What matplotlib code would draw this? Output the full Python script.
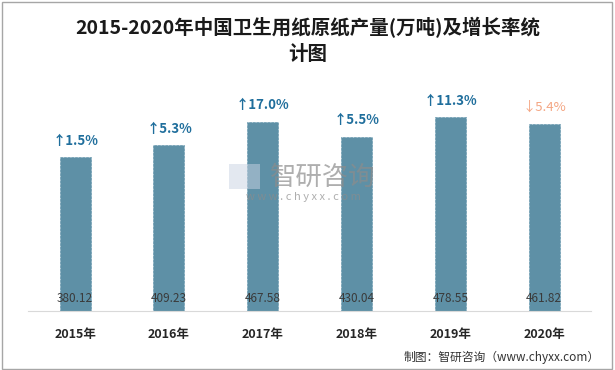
import matplotlib.pyplot as plt
from matplotlib.patches import Rectangle

plt.rcParams['font.family'] = ['Noto Sans CJK SC', 'DejaVu Sans']

years = ['2015年', '2016年', '2017年', '2018年', '2019年', '2020年']
output = [380.12, 409.23, 467.58, 430.04, 478.55, 461.82]
growth = ['↑1.5%', '↑5.3%', '↑17.0%', '↑5.5%', '↑11.3%', '↓5.4%']
growth_up = [True, True, True, True, True, False]

fig = plt.figure(figsize=(6.15, 3.7), dpi=100)
ax = fig.add_axes([0.046, 0.159, 0.915, 0.611])

x = range(len(years))
ax.bar(x, output, width=0.33, color='#5E90A6', edgecolor='#6A9AB0',
       linewidth=0.5, linestyle='--', zorder=2)

for i, v in enumerate(output):
    ax.annotate('%.2f' % v, (i, 0), xytext=(0, 9), textcoords='offset points',
                ha='center', va='center', fontsize=8.5, color='#3A3A3A', zorder=3)
    if growth_up[i]:
        ax.annotate(growth[i], (i, v), xytext=(0, 12), textcoords='offset points',
                    ha='center', va='center', fontsize=9.5, fontweight='bold',
                    color='#1F6E9C', zorder=3)
    else:
        ax.annotate(growth[i], (i, v), xytext=(0, 12), textcoords='offset points',
                    ha='center', va='center', fontsize=9.5, color='#F4A582', zorder=3)

ax.set_xlim(-0.5, len(years) - 0.5)
ax.set_ylim(0, 558)
ax.set_xticks(list(x))
ax.set_xticklabels(years, fontsize=9, fontweight='bold', color='#262626')
ax.tick_params(axis='x', length=0, pad=12)
ax.set_yticks([])
for s in ['top', 'left', 'right']:
    ax.spines[s].set_visible(False)
ax.spines['bottom'].set_color('#D9D9D9')

# watermark
fig.patches.append(Rectangle((0.372, 0.49), 0.05, 0.068, transform=fig.transFigure,
                             facecolor='#C9D3E2', edgecolor='none', alpha=0.5, zorder=5))
fig.text(0.525, 0.52, '智研咨询', ha='center', va='center', fontsize=19,
         color='#8C8C8C', alpha=0.7, zorder=5)
fig.text(0.493, 0.467, 'w w w . c h y x x . c o m', ha='center', va='center',
         fontsize=8, color='#8C8C8C', alpha=0.7, zorder=5)

fig.text(0.5, 0.926, '2015-2020年中国卫生用纸原纸产量(万吨)及增长率统', ha='center',
         va='center', fontsize=14, fontweight='bold', color='#1A1A1A')
fig.text(0.5, 0.852, '计图', ha='center', va='center', fontsize=14,
         fontweight='bold', color='#1A1A1A')
fig.text(0.975, 0.035, '制图：智研咨询（www.chyxx.com）', ha='right', va='center',
         fontsize=8.5, color='#333333')

fig.patches.append(Rectangle((0.003, 0.004), 0.992, 0.99, transform=fig.transFigure,
                             fill=False, edgecolor='#A6A6A6', linewidth=1))

plt.savefig('out.png', dpi=100)
